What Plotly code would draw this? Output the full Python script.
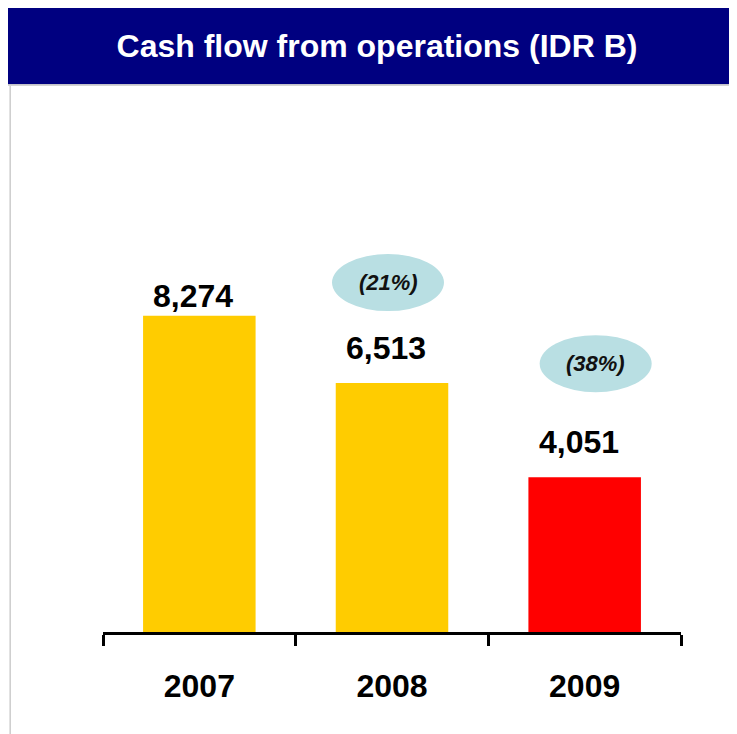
import plotly.graph_objects as go

# ---- data ----
years = ["2007", "2008", "2009"]
cash_flow = [8274, 6513, 4051]
value_labels = ["8,274", "6,513", "4,051"]
change_labels = ["(21%)", "(38%)"]          # change vs previous year, shown for 2008 and 2009
change_years = ["2008", "2009"]
title_text = "Cash flow from operations (IDR B)"

# ---- styles ----
bar_colors = ["#FFCC00", "#FFCC00", "#FF0000"]
navy = "#000080"
font_family = "Liberation Sans, Arial, sans-serif"

OFF = 8                     # page body margin
W, H = 737 - OFF, 734 - OFF
L, R, T, B = 103 - OFF, 56, 97 - OFF, 102
plot_w = W - L - R
plot_h = H - T - B
y_max = 14000

def pxx(px):   # page px -> paper x
    return (px - OFF - L) / plot_w

def pxy(py):   # page px -> paper y
    return (H - B - (py - OFF)) / plot_h

fig = go.Figure()
fig.add_trace(go.Bar(
    x=years, y=cash_flow,
    marker=dict(color=bar_colors, line=dict(width=0)),
    hoverinfo="skip",
))

# value labels above bars
label_yshift = [19.5, 35, 35]
for i, (v, txt, ys) in enumerate(zip(cash_flow, value_labels, label_yshift)):
    fig.add_annotation(
        x=i, y=v, text=f"<b>{txt}</b>", showarrow=False,
        xref="x", yref="y", yanchor="middle", yshift=ys, xshift=-6,
        font=dict(family=font_family, size=32, color="#000000"),
    )

# change ellipses (pixel-sized, anchored to bar top)
ellipse_offsets = [(100.5, -4), (113.5, 11)]   # (px above bar top, px x-shift)
for yr, txt, (dy, dx) in zip(change_years, change_labels, ellipse_offsets):
    i = years.index(yr)
    v = cash_flow[i]
    fig.add_shape(
        type="circle", xref="x", yref="y",
        xsizemode="pixel", ysizemode="pixel",
        xanchor=i, yanchor=v,
        x0=dx - 56, x1=dx + 56, y0=dy - 28.5, y1=dy + 28.5,
        fillcolor="#B9DFE3", line=dict(width=0), layer="above",
    )
    fig.add_annotation(
        x=i, y=v, text=f"<b><i>{txt}</i></b>", showarrow=False,
        xref="x", yref="y", yanchor="middle", yshift=dy, xshift=dx,
        font=dict(family=font_family, size=22, color="#111111"),
    )

# title banner
fig.add_shape(type="rect", xref="paper", yref="paper",
              x0=pxx(7.5), x1=pxx(745),
              y0=pxy(84.3), y1=pxy(6),
              fillcolor=navy, line=dict(width=0), layer="below")
fig.add_shape(type="line", xref="paper", yref="paper",
              x0=pxx(7.5), x1=pxx(745),
              y0=pxy(85), y1=pxy(85),
              line=dict(color="#C4C4C4", width=1.7), layer="below")
fig.add_shape(type="line", xref="paper", yref="paper",
              x0=pxx(10.2), x1=pxx(10.2),
              y0=pxy(85.5), y1=pxy(745),
              line=dict(color="#CFCFCF", width=1.6), layer="below")

fig.update_layout(
    width=W, height=H,
    margin=dict(l=L, r=R, t=T, b=B, pad=0),
    paper_bgcolor="white", plot_bgcolor="white",
    showlegend=False,
    bargap=0.416,
    title=dict(
        text=f"<b>{title_text}</b>",
        x=(377 - OFF) / W, xanchor="center", xref="container",
        y=1 - (45.5 - OFF) / H, yanchor="middle", yref="container",
        font=dict(family=font_family, size=32, color="white"),
    ),
    xaxis=dict(
        type="category", range=[-0.5, 2.5],
        showline=True, linecolor="black", linewidth=2.5,
        ticks="outside", tickson="boundaries", ticklen=11,
        tickwidth=2.5, tickcolor="black",
        ticklabelstandoff=24,
        tickfont=dict(family=font_family, size=32, color="black"),
        tickprefix="<b>", ticksuffix="</b>",
        showgrid=False, zeroline=False, fixedrange=True,
    ),
    yaxis=dict(
        range=[0, y_max], visible=False, showgrid=False,
        zeroline=False, fixedrange=True,
    ),
)

fig.write_html("out.html")
